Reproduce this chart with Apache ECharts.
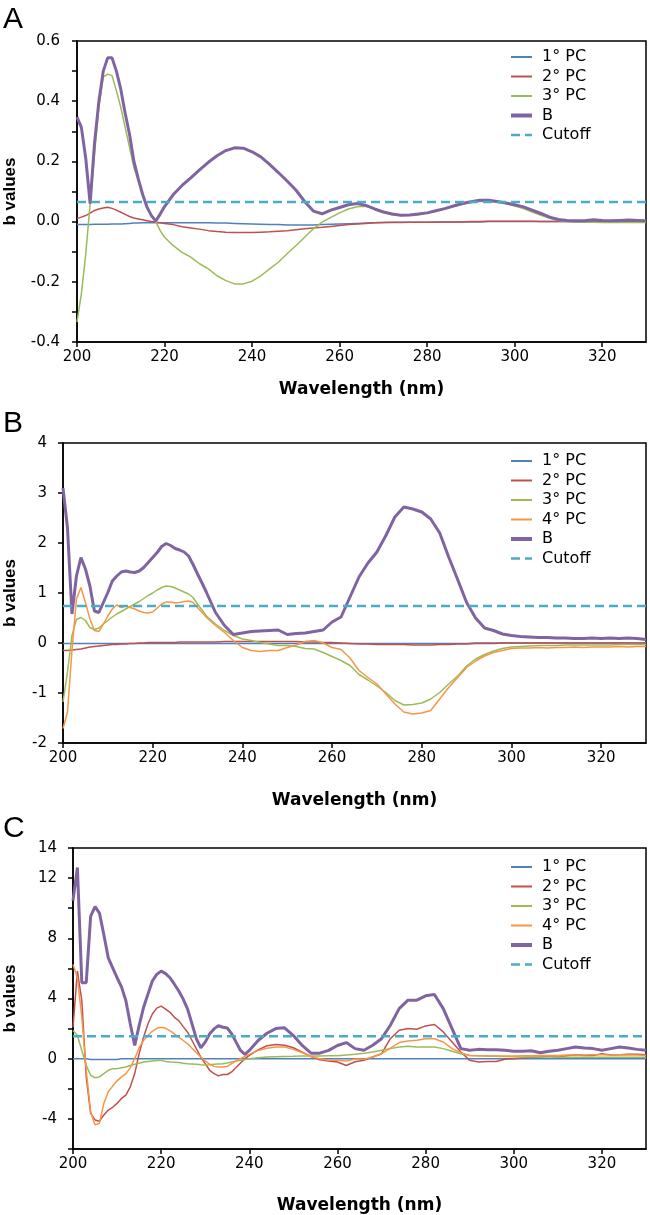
<!DOCTYPE html>
<html>
<head>
<meta charset="utf-8">
<script src="https://cdn.jsdelivr.net/npm/echarts@6/dist/echarts.min.js"></script>
<style>
html,body{margin:0;padding:0;background:#fff;}
#chart{width:650px;height:1215px;}
</style>
</head>
<body>
<div id="chart"></div>
<script>
// ---------- shared ----------
const X_TICKS = [200, 220, 240, 260, 280, 300, 320];

// ---------- Panel A ----------
const A_W = [200,201,202,203,204,205,206,207,208,209,210,211,212,213,214,215,216,217,218,219,220,
222,224,226,228,230,232,234,236,238,240,
242,244,246,248,250,252,254,256,258,260,
262,264,266,268,270,272,274,276,278,280,
282,284,286,288,290,292,294,296,298,300,
302,304,306,308,310,312,314,316,318,320,
322,324,326,328,330];
const A_PC1 = [-0.010,-0.010,-0.010,-0.010,-0.009,-0.009,-0.009,-0.009,-0.008,-0.008,-0.008,-0.007,-0.006,-0.005,-0.005,-0.004,-0.004,-0.004,-0.004,-0.004,-0.004,
-0.004,-0.004,-0.004,-0.004,-0.004,-0.005,-0.005,-0.006,-0.007,-0.008,
-0.009,-0.010,-0.010,-0.011,-0.011,-0.011,-0.011,-0.010,-0.009,-0.008,
-0.007,-0.006,-0.005,-0.004,-0.003,-0.003,-0.003,-0.002,-0.002,-0.002,
-0.002,-0.001,-0.001,-0.001,-0.001,-0.001,0,0,0,0,
0,0,0,0,0,0,0,0,0,0,
0,0,0,0,0];
const A_PC2 = [0.010,0.015,0.020,0.028,0.037,0.042,0.045,0.048,0.044,0.038,0.031,0.024,0.017,0.012,0.009,0.006,0.003,0.000,-0.002,-0.004,-0.006,
-0.010,-0.017,-0.021,-0.025,-0.030,-0.033,-0.035,-0.036,-0.036,-0.036,
-0.035,-0.034,-0.032,-0.030,-0.027,-0.024,-0.021,-0.019,-0.016,-0.013,
-0.010,-0.008,-0.006,-0.004,-0.003,-0.002,-0.002,-0.002,-0.002,-0.002,
-0.001,-0.001,-0.001,-0.001,0,0,0.001,0.001,0.001,0.001,
0.001,0.001,0,0,0,0,0,0,0,0,
0,0,0,0,0];
const A_PC3 = [-0.334,-0.240,-0.107,0.059,0.225,0.380,0.480,0.490,0.485,0.435,0.380,0.313,0.247,0.180,0.136,0.092,0.048,0.020,0.000,-0.030,-0.052,
-0.080,-0.102,-0.118,-0.140,-0.157,-0.180,-0.196,-0.207,-0.207,-0.198,
-0.180,-0.157,-0.135,-0.107,-0.080,-0.052,-0.024,-0.002,0.014,0.029,
0.042,0.049,0.051,0.043,0.032,0.023,0.020,0.021,0.023,0.029,
0.036,0.043,0.050,0.057,0.063,0.067,0.067,0.064,0.060,0.052,
0.043,0.032,0.021,0.011,0.004,0.000,-0.002,-0.002,-0.002,-0.003,
-0.003,-0.003,-0.003,-0.003,-0.003];
const A_B = [0.347,0.313,0.210,0.060,0.260,0.400,0.500,0.544,0.544,0.500,0.440,0.360,0.290,0.200,0.142,0.090,0.048,0.020,0.002,0.025,0.050,
0.090,0.120,0.145,0.172,0.197,0.219,0.236,0.245,0.244,0.232,
0.215,0.190,0.163,0.135,0.105,0.067,0.035,0.026,0.038,0.047,
0.056,0.060,0.054,0.042,0.032,0.025,0.021,0.022,0.025,0.029,
0.036,0.043,0.052,0.060,0.066,0.071,0.071,0.067,0.062,0.056,
0.049,0.038,0.027,0.015,0.007,0.004,0.003,0.003,0.006,0.004,
0.003,0.004,0.005,0.004,0.003];
const A_CUTOFF = 0.065;
const A_Y_TICKS = [-0.4,-0.3,-0.2,-0.1,0,0.1,0.2,0.3,0.4,0.5,0.6];
const A_Y_LABELS = [-0.4,-0.2,0,0.2,0.4,0.6];

// ---------- Panel B ----------
const B_W = [200,201,202,203,204,205,206,207,208,209,210,211,212,213,214,215,216,217,218,219,220,221,222,223,224,225,226,227,228,229,230,231,232,
234,236,238,240,
242,244,246,248,250,252,254,256,258,260,
262,264,266,268,270,272,274,276,278,280,
282,284,286,288,290,292,294,296,298,300,
302,304,306,308,310,312,314,316,318,320,
322,324,326,328,330];
const B_PC1 = [-0.01,-0.01,-0.01,-0.01,-0.01,-0.01,-0.01,-0.01,-0.01,-0.01,-0.01,-0.01,-0.01,-0.01,-0.01,-0.01,-0.01,-0.01,-0.01,-0.01,-0.01,-0.01,-0.01,-0.01,-0.01,-0.01,-0.01,-0.01,-0.01,-0.01,-0.01,-0.01,-0.01,
-0.01,-0.01,-0.01,-0.01,
-0.01,-0.01,-0.01,-0.01,-0.01,-0.01,-0.01,-0.01,-0.01,-0.01,
-0.01,-0.01,-0.01,-0.01,-0.01,-0.01,-0.01,-0.01,-0.01,-0.01,
-0.01,-0.01,-0.01,-0.01,-0.01,0,0,0,0,0,
0,0,0,0,0,0,0,0,0,0,
0,0,0,0,0];
const B_PC2 = [-0.15,-0.15,-0.14,-0.13,-0.12,-0.10,-0.08,-0.07,-0.06,-0.05,-0.04,-0.03,-0.03,-0.02,-0.02,-0.01,-0.01,0,0,0.01,0.01,0.01,0.01,0.01,0.01,0.01,0.02,0.02,0.02,0.02,0.02,0.02,0.02,
0.02,0.03,0.03,0.03,
0.03,0.03,0.03,0.03,0.03,0.03,0.02,0.02,0.01,0.01,
0,-0.01,-0.02,-0.02,-0.03,-0.03,-0.03,-0.03,-0.04,-0.04,
-0.04,-0.03,-0.03,-0.02,-0.02,-0.01,-0.01,-0.01,0,0,
0,0,0,0,0,0,0,0,0,0,
0,0,0,0,0];
const B_PC3 = [-1.18,-0.58,0.15,0.47,0.51,0.45,0.31,0.27,0.30,0.38,0.45,0.52,0.58,0.63,0.68,0.73,0.78,0.83,0.89,0.95,1.00,1.06,1.11,1.14,1.13,1.10,1.06,1.02,0.98,0.91,0.78,0.66,0.54,
0.38,0.25,0.15,0.08,
0.05,0.01,-0.02,-0.05,-0.05,-0.07,-0.11,-0.12,-0.19,-0.27,
-0.35,-0.45,-0.63,-0.74,-0.86,-0.99,-1.15,-1.24,-1.23,-1.20,
-1.12,-0.99,-0.82,-0.66,-0.46,-0.32,-0.23,-0.16,-0.11,-0.08,
-0.07,-0.06,-0.05,-0.05,-0.05,-0.04,-0.04,-0.04,-0.04,-0.04,
-0.04,-0.03,-0.03,-0.03,-0.03];
const B_PC4 = [-1.71,-1.38,-0.15,0.88,1.11,0.81,0.48,0.25,0.23,0.38,0.54,0.68,0.76,0.71,0.74,0.71,0.68,0.64,0.61,0.60,0.62,0.70,0.78,0.82,0.82,0.80,0.81,0.83,0.84,0.81,0.71,0.61,0.51,
0.35,0.21,0.05,-0.09,
-0.15,-0.17,-0.15,-0.15,-0.09,-0.04,0.03,0.05,0.00,-0.09,
-0.13,-0.30,-0.55,-0.69,-0.82,-1.02,-1.22,-1.38,-1.42,-1.40,
-1.35,-1.12,-0.89,-0.69,-0.49,-0.36,-0.26,-0.19,-0.15,-0.11,
-0.10,-0.10,-0.09,-0.10,-0.09,-0.09,-0.08,-0.09,-0.08,-0.08,
-0.08,-0.07,-0.08,-0.07,-0.07];
const B_B = [3.10,2.30,0.58,1.34,1.71,1.48,1.14,0.64,0.61,0.81,1.01,1.24,1.34,1.42,1.44,1.42,1.41,1.44,1.51,1.61,1.71,1.81,1.93,1.99,1.95,1.89,1.86,1.82,1.74,1.57,1.38,1.20,1.01,
0.61,0.35,0.17,0.20,
0.23,0.24,0.25,0.26,0.17,0.19,0.20,0.23,0.26,0.42,
0.52,0.92,1.32,1.60,1.82,2.15,2.52,2.72,2.68,2.62,
2.48,2.20,1.72,1.27,0.81,0.50,0.30,0.25,0.18,0.15,
0.13,0.12,0.11,0.11,0.10,0.10,0.09,0.09,0.10,0.09,
0.10,0.09,0.10,0.09,0.07];
const B_CUTOFF = 0.74;
const B_Y_TICKS = [-2,-1,0,1,2,3,4];
const B_Y_LABELS = [-2,-1,0,1,2,3,4];

// ---------- Panel C ----------
const C_W = [200,201,202,203,204,205,206,207,208,209,210,211,212,213,214,215,216,217,218,219,220,
221,222,223,224,225,226,227,228,229,230,231,232,233,234,235,236,237,238,239,240,
242,244,246,248,250,252,254,256,258,260,
262,264,266,268,270,272,274,276,278,280,
282,284,286,288,290,292,294,296,298,300,
302,304,306,308,310,312,314,316,318,320,
322,324,326,328,330];
const C_PC1 = [0,0,0,0,-0.05,-0.06,-0.06,-0.06,-0.06,-0.05,-0.05,
0,0,0,0,0,0,0,0,0,0,0,0,0,0,0,0,0,0,0,0,0,0,0,0,0,0,0,0,0,0,
0,0,0,0,0,0,0,0,0,0,
0,0,0,0,0,0,0,0,0,0,
0,0,0,0,0,0,0,0,0,0,
0,0,0,0,0,0,0,0,0,0,
0,0,0,0,0];
const C_PC2 = [2.09,5.82,3.85,-1.21,-3.63,-4.07,-4.15,-3.74,-3.41,-3.23,-2.97,-2.64,-2.42,-1.87,-0.99,0.33,1.43,2.31,2.97,3.36,3.49,
3.30,3.08,2.75,2.53,2.13,1.76,1.21,0.66,0.11,-0.33,-0.77,-0.99,-1.14,-1.05,-1.05,-0.88,-0.59,-0.29,0.00,0.22,
0.59,0.86,0.95,0.90,0.73,0.44,0.15,-0.07,-0.15,-0.22,
-0.45,-0.20,-0.11,0.11,0.33,1.33,1.89,2.00,1.96,2.18,
2.27,1.78,1.11,0.44,-0.11,-0.22,-0.18,-0.18,-0.04,0.00,
0.05,0.09,0.12,0.18,0.11,0.20,0.27,0.22,0.22,0.33,
0.25,0.27,0.30,0.29,0.27];
const C_PC3 = [1.87,1.54,0.55,-0.44,-1.10,-1.27,-1.21,-0.99,-0.77,-0.66,-0.66,-0.60,-0.55,-0.45,-0.37,-0.30,-0.22,-0.18,-0.15,-0.12,-0.11,
-0.18,-0.22,-0.24,-0.26,-0.30,-0.33,-0.35,-0.37,-0.40,-0.42,-0.40,-0.37,-0.35,-0.33,-0.28,-0.22,-0.16,-0.11,-0.05,0.00,
0.06,0.11,0.13,0.15,0.16,0.18,0.18,0.18,0.19,0.20,
0.25,0.29,0.36,0.44,0.56,0.67,0.78,0.82,0.78,0.78,
0.78,0.67,0.49,0.33,0.22,0.20,0.18,0.16,0.14,0.13,
0.12,0.12,0.11,0.11,0.11,0.10,0.10,0.10,0.10,0.09,
0.09,0.09,0.09,0.09,0.09];
const C_PC4 = [6.26,5.38,2.75,-0.77,-3.52,-4.40,-4.29,-2.97,-2.20,-1.82,-1.47,-1.21,-0.99,-0.59,0.00,0.73,1.21,1.54,1.82,2.02,2.09,
2.02,1.87,1.65,1.43,1.21,0.99,0.70,0.40,0.11,-0.15,-0.37,-0.51,-0.55,-0.55,-0.51,-0.33,-0.15,0.00,0.15,0.29,
0.55,0.70,0.77,0.77,0.62,0.40,0.15,0.00,-0.11,-0.11,
-0.15,-0.02,-0.04,0.11,0.33,0.71,1.07,1.18,1.22,1.33,
1.33,1.11,0.67,0.40,0.22,0.20,0.18,0.18,0.18,0.18,
0.20,0.20,0.22,0.22,0.22,0.24,0.24,0.25,0.26,0.27,
0.25,0.26,0.25,0.24,0.22];
const C_B = [10.5,12.7,5.05,5.05,9.45,10.1,9.67,8.24,6.70,6.04,5.38,4.77,3.85,2.31,0.88,2.20,3.40,4.29,5.16,5.60,5.82,
5.65,5.38,4.95,4.50,3.96,3.30,2.31,1.32,0.73,1.10,1.65,1.98,2.20,2.09,2.04,1.65,1.10,0.55,0.29,0.55,
1.21,1.69,2.00,2.05,1.54,0.88,0.37,0.37,0.55,0.88,
1.07,0.67,0.56,0.89,1.33,2.22,3.33,3.89,3.89,4.18,
4.27,3.33,2.00,0.67,0.56,0.62,0.60,0.60,0.56,0.49,
0.49,0.53,0.40,0.49,0.56,0.67,0.78,0.71,0.67,0.56,
0.67,0.78,0.71,0.62,0.56];
const C_CUTOFF = 1.5;
const C_Y_TICKS = [-6,-4,-2,0,2,4,6,8,10,12,14];
const C_Y_LABELS = [-4,0,4,8,12,14];

// ---------- styling ----------
const COLORS = {
  '1° PC': '#4F81BD', '2° PC': '#C0504D', '3° PC': '#9BBB59',
  '4° PC': '#F79646', 'B': '#8064A2', 'Cutoff': '#4BACC6'
};
const LEGEND_WIDTH = { '1° PC': 2, '2° PC': 2, '3° PC': 2, '4° PC': 2, 'B': 4, 'Cutoff': 2.5 };
const FONT = '"DejaVu Sans", sans-serif';
const FONT_V = '"Liberation Sans", Arial, sans-serif';

const panels = [
  { letter: 'A', W: A_W, series: {'1° PC': A_PC1, '2° PC': A_PC2, '3° PC': A_PC3, 'B': A_B}, cutoff: A_CUTOFF,
    yMin: -0.4, yMax: 0.6, yTicks: A_Y_TICKS, yLabels: A_Y_LABELS, fmt: v => (Math.abs(v) < 1e-9 ? 0 : v).toFixed(1),
    grid: {left: 77, top: 41, height: 301}, yNameGap: 58, yLabelMargin: 17, xNameGap: 39, legendTop: 49, letterTop: 5 },
  { letter: 'B', W: B_W, series: {'1° PC': B_PC1, '2° PC': B_PC2, '3° PC': B_PC3, '4° PC': B_PC4, 'B': B_B}, cutoff: B_CUTOFF,
    yMin: -2, yMax: 4, yTicks: B_Y_TICKS, yLabels: B_Y_LABELS, fmt: v => String(Math.round(v)),
    grid: {left: 63, top: 443, height: 300}, yNameGap: 44, yLabelMargin: 16, xNameGap: 49, legendTop: 453, letterTop: 409 },
  { letter: 'C', W: C_W, series: {'1° PC': C_PC1, '2° PC': C_PC2, '3° PC': C_PC3, '4° PC': C_PC4, 'B': C_B}, cutoff: C_CUTOFF,
    yMin: -6, yMax: 14, yTicks: C_Y_TICKS, yLabels: C_Y_LABELS, fmt: v => String(Math.round(v)),
    grid: {left: 73, top: 848, height: 301}, yNameGap: 54, yLabelMargin: 16, xNameGap: 48, legendTop: 859, letterTop: 814 }
];

const option = {
  animation: false,
  backgroundColor: '#fff',
  textStyle: { fontFamily: FONT },
  title: [], grid: [], xAxis: [], yAxis: [], legend: [], series: []
};

panels.forEach((p, i) => {
  option.title.push({ text: p.letter, left: 3, top: p.letterTop, padding: 0,
    textStyle: { fontSize: 30, fontWeight: 'normal', color: '#000', fontFamily: FONT_V } });
  option.grid.push({ left: p.grid.left, top: p.grid.top, height: p.grid.height, right: 4,
    outerBoundsMode: 'none', containLabel: false,
    show: true, borderColor: '#000', borderWidth: 1.5, backgroundColor: 'transparent' });
  option.xAxis.push({
    type: 'value', gridIndex: i, min: 200, max: 330,
    axisLine: { show: true, onZero: false, lineStyle: { color: '#000', width: 1.5 } },
    axisTick: { show: true, length: 5, customValues: X_TICKS, lineStyle: { color: '#000', width: 1.5 } },
    axisLabel: { customValues: X_TICKS, color: '#000', fontSize: 15, margin: 8, fontFamily: FONT },
    splitLine: { show: false },
    name: 'Wavelength (nm)', nameLocation: 'middle', nameGap: p.xNameGap,
    nameTextStyle: { fontWeight: 'bold', fontSize: 17, color: '#000', fontFamily: FONT }
  });
  option.yAxis.push({
    type: 'value', gridIndex: i, min: p.yMin, max: p.yMax,
    axisLine: { show: true, onZero: false, lineStyle: { color: '#000', width: 1.5 } },
    axisTick: { show: true, length: 5, customValues: p.yTicks, lineStyle: { color: '#000', width: 1.5 } },
    axisLabel: { customValues: p.yLabels, color: '#000', fontSize: 15, margin: p.yLabelMargin, formatter: p.fmt, fontFamily: FONT },
    splitLine: { show: false },
    name: 'b values', nameLocation: 'middle', nameGap: p.yNameGap,
    nameTextStyle: { fontWeight: 'bold', fontSize: 17, color: '#000', fontFamily: FONT_V }
  });
  const legendNames = [];
  Object.keys(p.series).forEach(name => {
    legendNames.push(name);
    const vals = p.series[name];
    const isB = name === 'B';
    option.series.push({
      name: name, type: 'line', xAxisIndex: i, yAxisIndex: i,
      symbol: 'none', smooth: false, z: isB ? 4 : 3,
      lineStyle: { color: COLORS[name], width: isB ? 3 : 1.5 },
      itemStyle: { color: COLORS[name] },
      data: p.W.map((w, k) => [w, vals[k]])
    });
  });
  legendNames.push('Cutoff');
  option.series.push({
    name: 'Cutoff', type: 'line', xAxisIndex: i, yAxisIndex: i, symbol: 'none', z: 5,
    lineStyle: { color: COLORS['Cutoff'], width: 2.5, type: [9, 5] },
    itemStyle: { color: COLORS['Cutoff'] },
    data: [[200, p.cutoff], [330, p.cutoff]]
  });
  option.legend.push({
    data: legendNames.map(n => ({ name: n, lineStyle: { width: LEGEND_WIDTH[n] } })),
    orient: 'vertical', left: 509, top: p.legendTop, padding: 0,
    itemWidth: 21, itemHeight: 14, itemGap: 3.5, selectedMode: false,
    itemStyle: { opacity: 0 },
    lineStyle: { width: 'inherit' },
    textStyle: { fontSize: 16, color: '#000', fontFamily: FONT, lineHeight: 16, padding: [0, 0, 0, 5] }
  });
});

const chart = echarts.init(document.getElementById('chart'), null, { renderer: 'canvas' });
chart.setOption(option);
</script>
</body>
</html>
